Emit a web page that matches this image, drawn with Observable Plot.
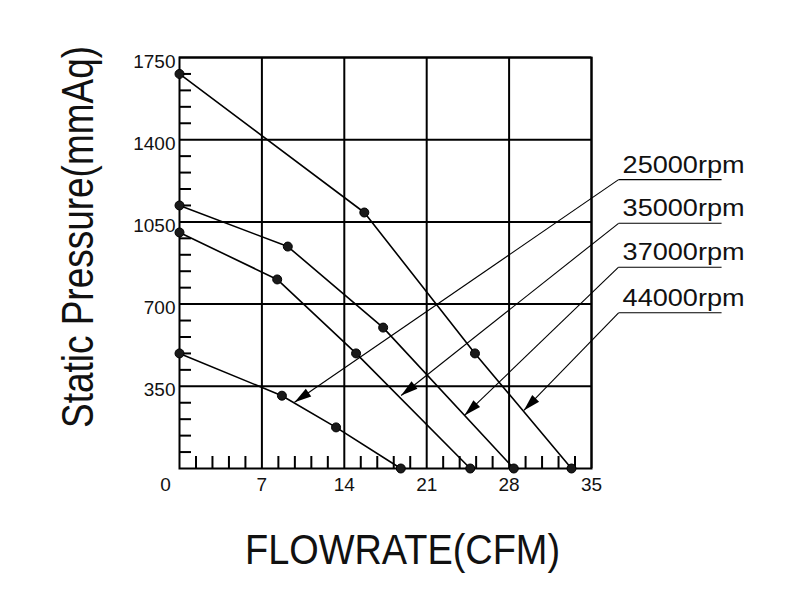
<!DOCTYPE html>
<html><head><meta charset="utf-8">
<script src="https://cdn.jsdelivr.net/npm/d3@7"></script>
<script src="https://cdn.jsdelivr.net/npm/@observablehq/plot@0.6"></script>
<style>body{margin:0;background:#fff;}</style>
</head><body><div id="chart"></div>
<script>
// ---- data ----
const seriesNames = ["25000rpm", "35000rpm", "37000rpm", "44000rpm"];
const flow25000 = [0, 8.7, 13.3, 18.8];
const pres25000 = [490, 310, 175, 0];
const flow35000 = [0, 8.3, 15.0, 24.7];
const pres35000 = [1005, 805, 490, 0];
const flow37000 = [0, 9.2, 17.3, 28.4];
const pres37000 = [1120, 945, 600, 0];
const flow44000 = [0, 15.7, 25.1, 33.3];
const pres44000 = [1680, 1090, 490, 0];

const xTicks = [0, 7, 14, 21, 28, 35];
const yTicks = [350, 700, 1050, 1400, 1750];

// annotation leaders (data coordinates)
const labelStartX = [37.3, 37.3, 37.3, 37.3];
const labelEndX = [46.05, 46.05, 46.05, 46.05];
const labelY = [1230, 1044, 857, 663];
const arrowTipX = [9.77, 18.83, 24.21, 29.25];
const arrowTipY = [282, 311, 226, 247];

// ---- layout ----
const W = 800, H = 600;
const mL = 179, mR = 209, mT = 57, mB = 132;
const xDomain = [0, 35], yDomain = [0, 1750];
const kx = (W - mL - mR) / (xDomain[1] - xDomain[0]);
const ky = (H - mT - mB) / (yDomain[1] - yDomain[0]);

const series = [
  {name: seriesNames[0], flow: flow25000, pres: pres25000},
  {name: seriesNames[1], flow: flow35000, pres: pres35000},
  {name: seriesNames[2], flow: flow37000, pres: pres37000},
  {name: seriesNames[3], flow: flow44000, pres: pres44000}
];
const points = series.flatMap(s => s.flow.map((f, i) => ({name: s.name, flow: f, pres: s.pres[i]})));

const labels = seriesNames.map((n, i) => {
  const dxp = (arrowTipX[i] - labelStartX[i]) * kx;
  const dyp = -(arrowTipY[i] - labelY[i]) * ky;
  return {
    name: n, x1: labelStartX[i], x2: labelEndX[i], y: labelY[i],
    tx: arrowTipX[i], ty: arrowTipY[i],
    angle: Math.atan2(dyp, dxp) * 180 / Math.PI
  };
});

const minorX = d3.range(1, 25).map(i => +(i * 1.4).toFixed(2)).filter(v => Math.abs(v / 7 - Math.round(v / 7)) > 1e-6);
const minorY = d3.range(1, 25).map(i => i * 70).filter(v => v % 350 !== 0);

const arrowHead = {
  draw(ctx) {
    ctx.moveTo(0, 0);
    ctx.lineTo(-17, -4.8);
    ctx.lineTo(-17, 4.8);
    ctx.closePath();
  }
};

const plot = Plot.plot({
  width: W, height: H,
  marginLeft: mL, marginRight: mR, marginTop: mT, marginBottom: mB,
  x: {domain: xDomain, axis: null},
  y: {domain: yDomain, axis: null},
  style: {fontFamily: "'Liberation Sans', Arial, sans-serif", color: "#111", background: "#fff"},
  marks: [
    Plot.ruleX(xTicks.filter(d => d > 0), {stroke: "#000", strokeWidth: 2}),
    Plot.ruleY(yTicks, {stroke: "#000", strokeWidth: 2}),
    Plot.tickY(minorY, {stroke: "#000", strokeWidth: 2, insetRight: (W - mL - mR) - 12}),
    Plot.tickX(minorX, {stroke: "#000", strokeWidth: 2, insetTop: (H - mT - mB) - 12}),
    Plot.frame({stroke: "#000", strokeWidth: 2}),
    Plot.line(points, {x: "flow", y: "pres", z: "name", stroke: "#000", strokeWidth: 1.6}),
    Plot.dot(points, {x: "flow", y: "pres", r: 4.5, fill: "#1a1a1a", stroke: "#000", strokeWidth: 1}),
    // annotation leaders
    Plot.link(labels, {x1: "x1", x2: "x2", y1: "y", y2: "y", stroke: "#000", strokeWidth: 1.1}),
    Plot.link(labels, {x1: "x1", y1: "y", x2: "tx", y2: "ty", stroke: "#000", strokeWidth: 1.1}),
    Plot.dot(labels, {x: "tx", y: "ty", symbol: arrowHead, rotate: "angle", fill: "#000", stroke: "none"}),
    Plot.text(labels, {x: "x1", y: "y", text: "name", textAnchor: "start", lineAnchor: "bottom", dx: 4, dy: -7, fontSize: 23, fill: "#111"}),
    // tick labels
    Plot.text(xTicks.filter(d => d > 0), {x: d => d, y: 0, text: d => String(d), dy: 16, lineAnchor: "middle", fontSize: 19, fill: "#111"}),
    Plot.text([0], {x: d => d, y: 0, text: d => String(d), dx: -14, dy: 16, lineAnchor: "middle", fontSize: 19, fill: "#111"}),
    Plot.text(yTicks, {x: 0, y: d => d, text: d => String(d), textAnchor: "end", lineAnchor: "middle", dx: -4, dy: 4, fontSize: 19, fill: "#111"}),
    // axis titles
    Plot.text(["FLOWRATE(CFM)"], {frameAnchor: "bottom", text: d => d, textAnchor: "middle", dx: 17, dy: 95, lineAnchor: "bottom", fontSize: 42, fill: "#111"}),
    Plot.text(["Static Pressure(mmAq)"], {frameAnchor: "left", text: d => d, textAnchor: "middle", rotate: -90, dx: -87, dy: -26, lineAnchor: "bottom", fontSize: 44, fill: "#111"})
  ]
});

plot.querySelectorAll("text").forEach(t => {
  const s = t.textContent;
  let len = null;
  if (s === "FLOWRATE(CFM)") len = 315;
  else if (s === "Static Pressure(mmAq)") len = 382;
  else if (/rpm$/.test(s)) len = 122;
  if (len) { t.setAttribute("textLength", len); t.setAttribute("lengthAdjust", "spacingAndGlyphs"); }
});

document.getElementById("chart").appendChild(plot);
</script>
</body></html>
